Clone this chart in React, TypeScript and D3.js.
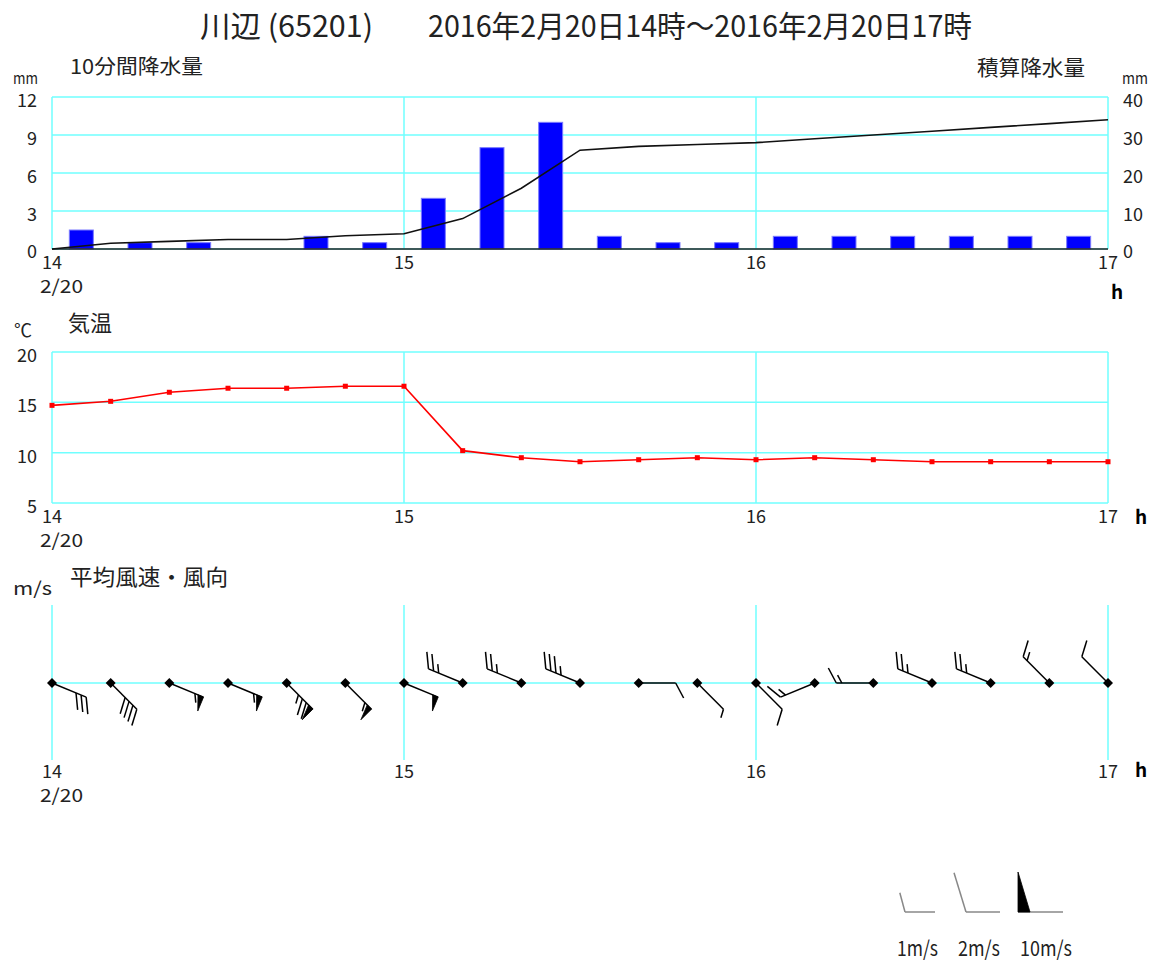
import React from "react";
import * as d3 from "d3";

// ---- data ----
const timeLabels = ["14:00","14:10","14:20","14:30","14:40","14:50","15:00","15:10","15:20","15:30","15:40","15:50","16:00","16:10","16:20","16:30","16:40","16:50","17:00"];
const precipEndLabels = ["14:10","14:20","14:30","14:40","14:50","15:00","15:10","15:20","15:30","15:40","15:50","16:00","16:10","16:20","16:30","16:40","16:50","17:00"];
const precip10 = [1.5,0.5,0.5,0,1,0.5,4,8,10,1,0.5,0.5,1,1,1,1,1,1];
const precipCum = [0,1.5,2,2.5,2.5,3.5,4,8,16,26,27,27.5,28,29,30,31,32,33,34];
const temps = [14.7,15.1,16.0,16.4,16.4,16.6,16.6,10.2,9.5,9.1,9.3,9.5,9.3,9.5,9.3,9.1,9.1,9.1,9.1];
const windDirs = ["ESE","SE","ESE","ESE","SE","SE","ESE","WNW","WNW","WNW","E","SE","SE","WSW","W","WNW","WNW","NW","NW"];
const windSpeeds = [6,8,11,11,15,11,10,5,5,7,2,1,2,3,3,5,5,3,2];
const hourTicks = [14,15,16,17];
const precipTicks = [0,3,6,9,12];
const cumTicks = [0,10,20,30,40];
const tempTicks = [5,10,15,20];
const legendSpeeds = [1,2,10];
const legendLabels = ["1m/s","2m/s","10m/s"];
const compass = ["N","NNE","NE","ENE","E","ESE","SE","SSE","S","SSW","SW","WSW","W","WNW","NW","NNW"];

const FONT = "'Noto Sans CJK JP', 'Noto Sans', sans-serif";
const GRID = "#70ffff";

const toHour = (s: string) => { const [h, m] = s.split(":").map(Number); return h + m / 60; };

const x = d3.scaleLinear().domain([14, 17]).range([52, 1108]);
const yP = d3.scaleLinear().domain([0, 12]).range([249, 97]);
const yC = d3.scaleLinear().domain([0, 40]).range([249, 97]);
const yT = d3.scaleLinear().domain([5, 20]).range([503, 352]);
const WIND_Y = 683;

type BarbOpt = { L: number; longLen: number; shortLen: number; penH: number; penW: number; gap: number; tilt: number; color: string; sw: number };

function barb(key: string, sx: number, sy: number, bearing: number, speed: number, o: BarbOpt) {
  const a = ((bearing - 90) * Math.PI) / 180;
  const d = [Math.cos(a), Math.sin(a)];
  const n = [-d[1], d[0]];
  const t = (o.tilt * Math.PI) / 180;
  const b = [Math.sin(t) * d[0] + Math.cos(t) * n[0], Math.sin(t) * d[1] + Math.cos(t) * n[1]];
  const P = (p: number) => [sx + p * d[0], sy + p * d[1]];
  const els: any[] = [];
  const tip = P(o.L);
  els.push(<line key="s" x1={sx} y1={sy} x2={tip[0]} y2={tip[1]} stroke={o.color} strokeWidth={o.sw} />);
  const pens = Math.floor(speed / 10);
  const rem = speed - pens * 10;
  const longs = Math.floor(rem / 2);
  const shorts = rem % 2;
  let pos = o.L;
  for (let i = 0; i < pens; i++) {
    const p0 = P(pos);
    const p1 = [p0[0] + o.penH * n[0], p0[1] + o.penH * n[1]];
    const p2 = P(pos - o.penW);
    els.push(<polygon key={"p" + i} points={`${p0[0]},${p0[1]} ${p1[0]},${p1[1]} ${p2[0]},${p2[1]}`} fill="#000" stroke="#000" strokeWidth={0.8} />);
    pos -= o.penW + o.gap * 0.6;
  }
  for (let i = 0; i < longs; i++) {
    const p0 = P(pos);
    els.push(<line key={"l" + i} x1={p0[0]} y1={p0[1]} x2={p0[0] + o.longLen * b[0]} y2={p0[1] + o.longLen * b[1]} stroke={o.color} strokeWidth={o.sw} />);
    pos -= o.gap;
  }
  for (let i = 0; i < shorts; i++) {
    const p0 = P(pos);
    els.push(<line key={"h" + i} x1={p0[0]} y1={p0[1]} x2={p0[0] + o.shortLen * b[0]} y2={p0[1] + o.shortLen * b[1]} stroke={o.color} strokeWidth={o.sw} />);
    pos -= o.gap;
  }
  return <g key={key}>{els}</g>;
}

function XLabels({ base }: { base: number }) {
  return (
    <g fontFamily={FONT} fontSize={18} fill="#222">
      {hourTicks.map((h) => (
        <text key={h} x={x(h)} y={base} textAnchor="middle">{h}</text>
      ))}
      <text x={40} y={base + 24} textLength={43} lengthAdjust="spacingAndGlyphs">2/20</text>
    </g>
  );
}

export default function App() {
  const cumLine = d3.line<number>().x((_, i) => x(toHour(timeLabels[i]))).y((v) => yC(v));
  const tempLine = d3.line<number>().x((_, i) => x(toHour(timeLabels[i]))).y((v) => yT(v));
  const barW = 24;
  const chartBarb: BarbOpt = { L: 37, longLen: 17, shortLen: 9, penH: 15, penW: 6, gap: 5.5, tilt: 28, color: "#000", sw: 1.5 };
  return (
    <svg width={1157} height={965} style={{ display: "block", position: "absolute", left: 0, top: 0 }}>
      <rect width={1157} height={965} fill="#fff" />
      {/* title */}
      <text x={200} y={37} fontFamily={FONT} fontSize={30} fill="#222" textLength={173} lengthAdjust="spacingAndGlyphs">川辺 (65201)</text>
      <text x={428} y={37} fontFamily={FONT} fontSize={30} fill="#222" textLength={544} lengthAdjust="spacingAndGlyphs">2016年2月20日14時～2016年2月20日17時</text>

      {/* ---- plot 1 ---- */}
      <text x={70} y={74} fontFamily={FONT} fontSize={20} fill="#222" textLength={133} lengthAdjust="spacingAndGlyphs">10分間降水量</text>
      <text x={977} y={75} fontFamily={FONT} fontSize={21} fill="#222" textLength={108} lengthAdjust="spacingAndGlyphs">積算降水量</text>
      <text x={13} y={84} fontFamily={FONT} fontSize={15} fill="#222" textLength={25} lengthAdjust="spacingAndGlyphs">mm</text>
      <text x={1122} y={84} fontFamily={FONT} fontSize={15} fill="#222" textLength={26} lengthAdjust="spacingAndGlyphs">mm</text>
      {precipTicks.map((v) => (
        <line key={"pg" + v} x1={52} x2={1108} y1={yP(v)} y2={yP(v)} stroke={GRID} strokeWidth={1.5} />
      ))}
      {hourTicks.map((h) => (
        <line key={"pv" + h} x1={x(h)} x2={x(h)} y1={97} y2={249} stroke={GRID} strokeWidth={1.5} />
      ))}
      {precipTicks.map((v) => (
        <text key={"pl" + v} x={37} y={yP(v) + (v === 0 ? 9 : 10)} textAnchor="end" fontFamily={FONT} fontSize={18} fill="#222">{v}</text>
      ))}
      {cumTicks.map((v) => (
        <text key={"cl" + v} x={1123} y={yC(v) + (v === 0 ? 9 : 10)} fontFamily={FONT} fontSize={18} fill="#222">{v}</text>
      ))}
      {precip10.map((v, i) => {
        const cx = x(toHour(precipEndLabels[i]) - 5 / 60);
        return v > 0 ? (
          <rect key={"b" + i} x={cx - barW / 2} y={yP(v)} width={barW} height={yP(0) - yP(v)} fill="#0000ff" stroke="#7a7aff" strokeWidth={1} />
        ) : null;
      })}
      <line x1={52} x2={1108} y1={249} y2={249} stroke="#222" strokeWidth={1.5} />
      <path d={cumLine(precipCum) || ""} fill="none" stroke="#111" strokeWidth={1.6} />
      <XLabels base={269} />
      <text x={1111} y={299} fontFamily={FONT} fontSize={19} fontWeight="bold" fill="#000">h</text>

      {/* ---- plot 2 ---- */}
      <text x={14} y={337} fontFamily={FONT} fontSize={18} fill="#222">℃</text>
      <text x={68} y={331} fontFamily={FONT} fontSize={22} fill="#222" textLength={44} lengthAdjust="spacingAndGlyphs">気温</text>
      {tempTicks.map((v) => (
        <line key={"tg" + v} x1={52} x2={1108} y1={yT(v)} y2={yT(v)} stroke={GRID} strokeWidth={1.5} />
      ))}
      {hourTicks.map((h) => (
        <line key={"tv" + h} x1={x(h)} x2={x(h)} y1={352} y2={503} stroke={GRID} strokeWidth={1.5} />
      ))}
      {tempTicks.map((v) => (
        <text key={"tl" + v} x={37} y={yT(v) + 10} textAnchor="end" fontFamily={FONT} fontSize={18} fill="#222">{v}</text>
      ))}
      <path d={tempLine(temps) || ""} fill="none" stroke="#ff0000" strokeWidth={1.6} />
      {temps.map((v, i) => (
        <rect key={"tm" + i} x={x(toHour(timeLabels[i])) - 2.5} y={yT(v) - 2.5} width={5} height={5} fill="#ff0000" />
      ))}
      <XLabels base={523} />
      <text x={1135} y={524} fontFamily={FONT} fontSize={19} fontWeight="bold" fill="#000">h</text>

      {/* ---- plot 3 ---- */}
      <text x={13} y={595} fontFamily={FONT} fontSize={18} fill="#222" textLength={39} lengthAdjust="spacingAndGlyphs">m/s</text>
      <text x={70} y={585} fontFamily={FONT} fontSize={22} fill="#222" textLength={158} lengthAdjust="spacingAndGlyphs">平均風速・風向</text>
      {hourTicks.map((h) => (
        <line key={"wv" + h} x1={x(h)} x2={x(h)} y1={605} y2={760} stroke={GRID} strokeWidth={1.5} />
      ))}
      <line x1={52} x2={1108} y1={WIND_Y} y2={WIND_Y} stroke={GRID} strokeWidth={1.5} />
      {windSpeeds.map((s, i) => {
        const sx = x(toHour(timeLabels[i]));
        const bearing = compass.indexOf(windDirs[i]) * 22.5;
        return (
          <g key={"w" + i}>
            {barb("bb" + i, sx, WIND_Y, bearing, s, chartBarb)}
            <polygon points={`${sx - 5},${WIND_Y} ${sx},${WIND_Y - 5} ${sx + 5},${WIND_Y} ${sx},${WIND_Y + 5}`} fill="#000" />
          </g>
        );
      })}
      <XLabels base={778} />
      <text x={1135} y={777} fontFamily={FONT} fontSize={19} fontWeight="bold" fill="#000">h</text>

      {/* ---- legend ---- */}
      {barb("lg0", 935, 912, 270, legendSpeeds[0], { L: 30, longLen: 40, shortLen: 20, penH: 40, penW: 12, gap: 6, tilt: 15, color: "#888", sw: 1.5 })}
      {barb("lg1", 1000, 912, 270, legendSpeeds[1], { L: 34, longLen: 41, shortLen: 20, penH: 40, penW: 12, gap: 6, tilt: 17, color: "#888", sw: 1.5 })}
      {barb("lg2", 1063, 912, 270, legendSpeeds[2], { L: 45, longLen: 40, shortLen: 20, penH: 40, penW: 12, gap: 6, tilt: 17, color: "#888", sw: 1.5 })}
      {legendLabels.map((t, i) => (
        <text key={"ll" + i} x={[897, 958, 1020][i]} y={956} fontFamily={FONT} fontSize={21} fill="#222" textLength={[41, 42, 52][i]} lengthAdjust="spacingAndGlyphs">{t}</text>
      ))}
    </svg>
  );
}
